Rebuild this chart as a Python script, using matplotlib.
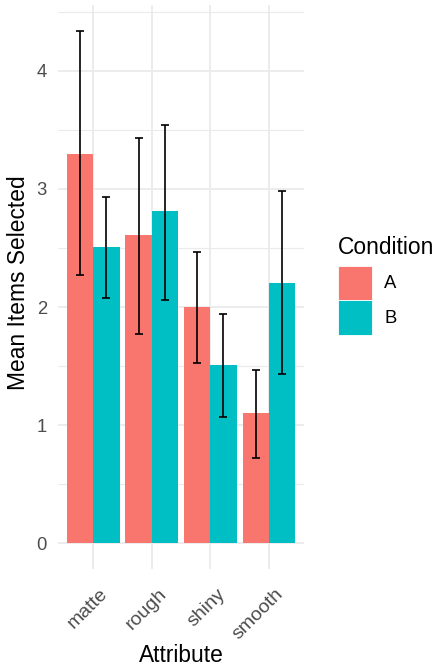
import numpy as np
import matplotlib.pyplot as plt
import matplotlib.transforms as mtransforms
from matplotlib.patches import Patch

attributes = ["matte", "rough", "shiny", "smooth"]
conditions = ["A", "B"]
mean_a = [3.30, 2.61, 2.00, 1.10]
mean_b = [2.51, 2.81, 1.51, 2.20]
low_a = [2.27, 1.77, 1.53, 0.72]
high_a = [4.34, 3.43, 2.47, 1.47]
low_b = [2.08, 2.06, 1.07, 1.43]
high_b = [2.93, 3.54, 1.94, 2.98]

cond_colors = {"A": "#F8766D", "B": "#00BFC4"}
grid_col = "#EBEBEB"

plt.rcParams["font.family"] = ["Liberation Sans", "DejaVu Sans"]

fig = plt.figure(figsize=(4.36, 6.72), dpi=100)
ax = fig.add_axes([58 / 436, 103 / 672, 246 / 436, 564 / 672])

x = np.arange(1, len(attributes) + 1)
w = 0.45
series = [(mean_a, low_a, high_a), (mean_b, low_b, high_b)]
for i, (cond, (m, lo, hi)) in enumerate(zip(conditions, series)):
    pos = x + (i - 0.5) * w
    m = np.array(m)
    yerr = [m - np.array(lo), np.array(hi) - m]
    ax.bar(pos, m, width=w, color=cond_colors[cond], zorder=2)
    ax.errorbar(pos, m, yerr=yerr, fmt="none", ecolor="black",
                elinewidth=1.2, capsize=3.2, capthick=1.2, zorder=3)

ymax = max(max(high_a), max(high_b))
ax.set_ylim(-0.05 * ymax, ymax * 1.05)
ax.set_xlim(0.4, 4.6)
ax.set_xticks(x)
ax.set_xticklabels(attributes, rotation=45, ha="right", va="top",
                   rotation_mode="anchor")
ax.set_yticks([0, 1, 2, 3, 4])
ax.set_yticks([0.5, 1.5, 2.5, 3.5, 4.5], minor=True)

ax.grid(True, which="major", color=grid_col, linewidth=1.3, zorder=0)
ax.grid(True, which="minor", axis="y", color=grid_col, linewidth=0.8, zorder=0)
ax.set_axisbelow(True)
for s in ax.spines.values():
    s.set_visible(False)
ax.tick_params(which="both", length=0)
ax.tick_params(axis="y", pad=8, labelsize=13.3, labelcolor="#4D4D4D")
ax.tick_params(axis="x", pad=12, labelsize=14, labelcolor="#4D4D4D")

# nudge rotated tick labels right, like ggplot's placement
shift = mtransforms.ScaledTranslation(6 / 100, 0, fig.dpi_scale_trans)
for lab in ax.get_xticklabels():
    lab.set_transform(lab.get_transform() + shift)

ax.set_xlabel("Attribute", fontsize=16.4, va="top")
ax.xaxis.set_label_coords(0.5, -0.133)
ax.set_ylabel("Mean Items Selected", fontsize=16.4)
ax.yaxis.set_label_coords(-0.112, 0.508)

handles = [Patch(facecolor=cond_colors[c], edgecolor="white", linewidth=0.6)
           for c in conditions]
leg = ax.legend(handles, conditions, title="Condition", loc="upper left",
                bbox_to_anchor=(1.108, 0.603), frameon=False, fontsize=13.3,
                title_fontsize=16.4, handlelength=1.85, handleheight=2.5,
                handletextpad=0.65, labelspacing=0.0, borderaxespad=0)
leg._legend_box.align = "left"
leg._legend_box.sep = 4.5

fig.savefig("out.png", dpi=100)
